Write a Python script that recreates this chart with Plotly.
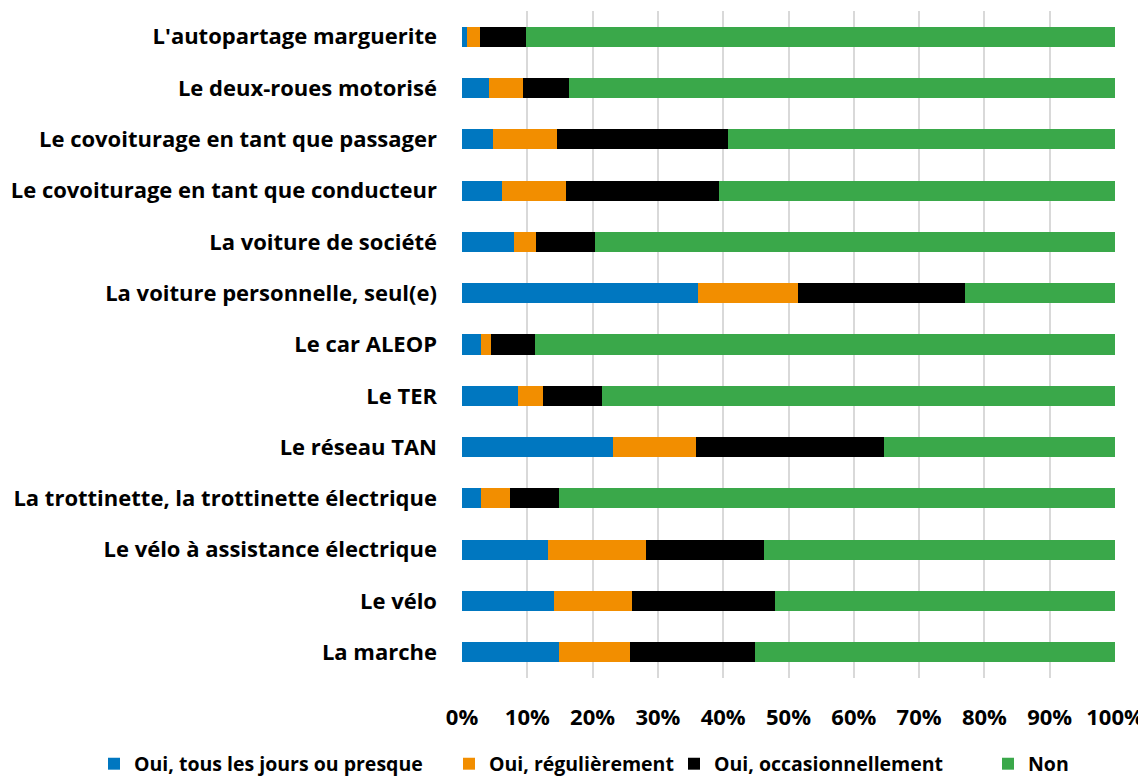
import plotly.graph_objects as go

categories = [
    "L'autopartage marguerite",
    "Le deux-roues motorisé",
    "Le covoiturage en tant que passager",
    "Le covoiturage en tant que conducteur",
    "La voiture de société",
    "La voiture personnelle, seul(e)",
    "Le car ALEOP",
    "Le TER",
    "Le réseau TAN",
    "La trottinette, la trottinette électrique",
    "Le vélo à assistance électrique",
    "Le vélo",
    "La marche",
]

series_names = [
    "Oui, tous les jours ou presque",
    "Oui, régulièrement",
    "Oui, occasionnellement",
    "Non",
]

tous_les_jours = [0.8, 4.1, 4.7, 6.1, 7.9, 36.1, 2.9, 8.6, 23.1, 2.9, 13.1, 14.1, 14.9]
regulierement = [1.9, 5.3, 9.8, 9.8, 3.5, 15.3, 1.6, 3.8, 12.8, 4.5, 15.1, 12.0, 10.8]
occasionnellement = [7.1, 7.0, 26.3, 23.5, 9.0, 25.6, 6.7, 9.1, 28.7, 7.5, 18.1, 21.8, 19.2]
non = [90.2, 83.6, 59.2, 60.6, 79.6, 23.0, 88.8, 78.5, 35.4, 85.1, 53.7, 52.1, 55.1]

x_ticks = [0, 10, 20, 30, 40, 50, 60, 70, 80, 90, 100]

colors = ["#0077C0", "#F28E00", "#000000", "#3AA84A"]
values = [tous_les_jours, regulierement, occasionnellement, non]
legend_ids = ["legend", "legend2", "legend3", "legend4"]
legend_x_px = [86, 441, 666, 980]

# page has an 8px body margin; size the figure so it fits the 1146x780 window
W, H = 1138, 772
font_family = "Open Sans"
axis_font = dict(family=font_family, size=22, color="black", weight="bold")
legend_font = dict(family=font_family, size=19.5, color="black", weight="bold")

fig = go.Figure()
for name, vals, col, lid in zip(series_names, values, colors, legend_ids):
    fig.add_trace(go.Bar(
        y=categories, x=vals, name=name, orientation="h",
        marker=dict(color=col, line=dict(width=0)),
        legend=lid,
    ))

layout_legends = {}
for lid, px in zip(legend_ids, legend_x_px):
    layout_legends[lid] = dict(
        xref="container", yref="container",
        x=px / W, xanchor="left", y=1 - 756 / H, yanchor="middle",
        font=legend_font, bgcolor="rgba(0,0,0,0)", borderwidth=0,
        itemwidth=30,
    )

fig.update_layout(
    barmode="stack",
    bargap=0.61,
    width=W, height=H,
    margin=dict(l=454, r=31, t=3, b=102, autoexpand=False),
    plot_bgcolor="white", paper_bgcolor="white",
    font=dict(family=font_family, size=20, color="black"),
    showlegend=True,
    **layout_legends,
)
fig.update_xaxes(
    range=[0, 100], tickvals=x_ticks, ticktext=[f"{v}%" for v in x_ticks],
    showgrid=True, gridcolor="#D9D9D9", gridwidth=2,
    zeroline=False, showline=False, automargin=False,
    tickfont=axis_font,
    ticklabelstandoff=24,
)
fig.update_yaxes(
    categoryorder="array", categoryarray=categories, autorange="reversed",
    showgrid=False, zeroline=False, showline=False, automargin=False,
    tickfont=axis_font,
    ticklabelstandoff=24,
)

fig.write_html("out.html")
